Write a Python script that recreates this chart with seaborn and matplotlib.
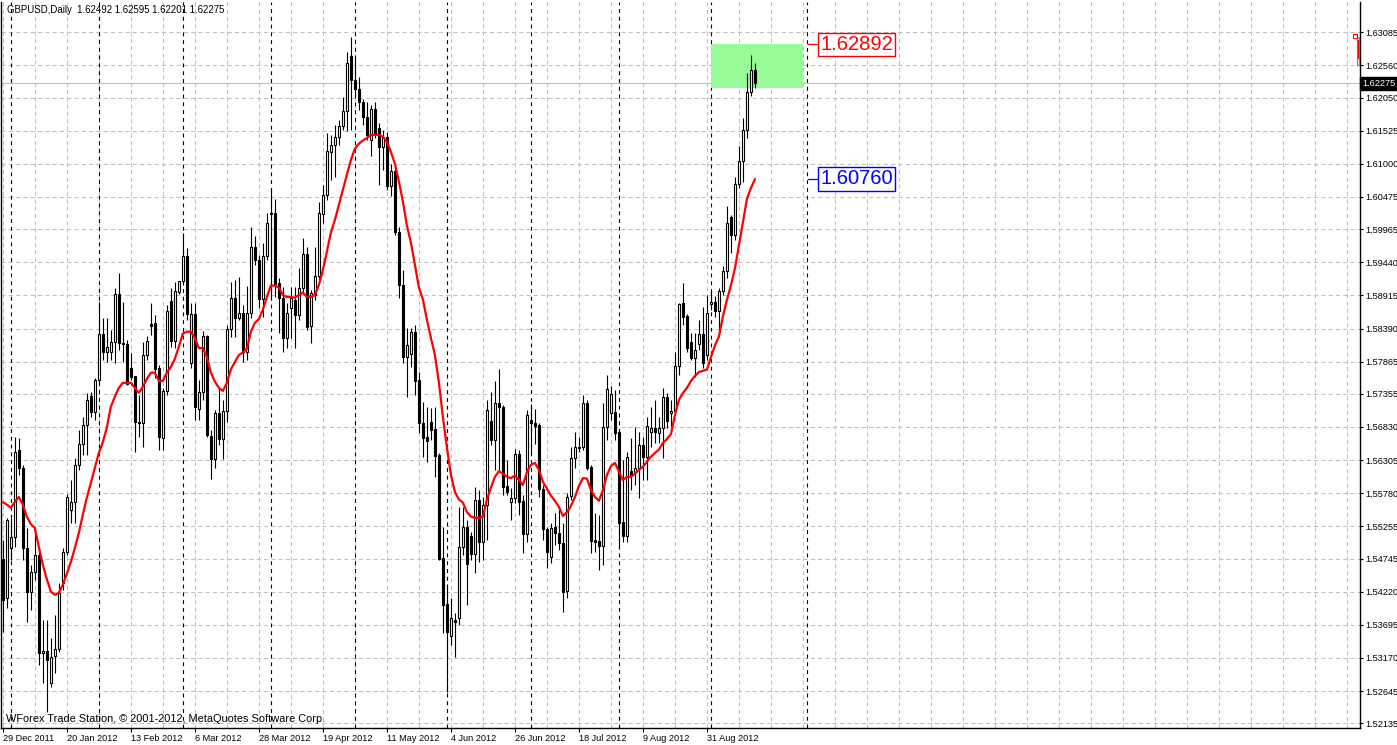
import numpy as np
import matplotlib
matplotlib.use("Agg")
import matplotlib.pyplot as plt
import matplotlib.transforms as mtransforms
from matplotlib.patches import Rectangle
import seaborn as sns

# ---------------- data ----------------
opens = [
1.5474,1.5412,1.5491,1.5509,1.5647,1.5618,1.5491,1.5422,1.5453,1.5480,
1.5325,1.5328,1.5277,1.5320,1.5331,1.5436,1.5485,1.5552,1.5564,1.5623,
1.5656,1.5686,1.5732,1.5707,1.5758,1.5831,1.5802,1.5802,1.5818,1.5894,
1.5816,1.5815,1.5777,1.5764,1.5691,1.5690,1.5797,1.5846,1.5848,1.5777,
1.5666,1.5740,1.5883,1.5820,1.5897,1.5915,1.5954,1.5785,1.5862,1.5712,
1.5739,1.5827,1.5669,1.5633,1.5705,1.5664,1.5709,1.5839,1.5888,1.5856,
1.5864,1.5802,1.5864,1.5969,1.5948,1.5886,1.5954,1.6021,1.6022,1.5911,
1.5888,1.5824,1.5872,1.5885,1.5861,1.5904,1.5957,1.5843,1.5892,1.5923,
1.6021,1.6051,1.6119,1.6130,1.6143,1.6160,1.6184,1.6271,1.6233,1.6219,
1.6198,1.6175,1.6138,1.6187,1.6157,1.6127,1.6143,1.6065,1.6089,1.5992,
1.5908,1.5794,1.5799,1.5834,1.5758,1.5690,1.5667,1.5691,1.5680,1.5639,
1.5476,1.5403,1.5352,1.5377,1.5380,1.5493,1.5525,1.5510,1.5482,1.5568,
1.5501,1.5560,1.5693,1.5663,1.5721,1.5715,1.5590,1.5564,1.5571,1.5640,
1.5566,1.5514,1.5694,1.5690,1.5686,1.5585,1.5522,1.5477,1.5525,1.5515,
1.5499,1.5423,1.5574,1.5634,1.5650,1.5652,1.5721,1.5620,1.5504,1.5503,
1.5495,1.5683,1.5705,1.5707,1.5675,1.5533,1.5510,1.5613,1.5612,1.5618,
1.5655,1.5636,1.5675,1.5682,1.5674,1.5682,1.5731,1.5705,1.5709,1.5780,
1.5880,1.5859,1.5818,1.5793,1.5815,1.5831,1.5797,1.5878,1.5881,1.5867,
1.5899,1.5930,1.6016,1.5988,1.6068,1.6105,1.6154,1.6214,1.62492]

highs = [
1.5504,1.5539,1.5539,1.5667,1.5666,1.5623,1.5523,1.5465,1.5523,1.5488,
1.5377,1.5377,1.5349,1.5385,1.5436,1.5491,1.5577,1.5599,1.5634,1.5678,
1.5699,1.5737,1.5739,1.5761,1.5881,1.5856,1.5856,1.5837,1.5904,1.5927,
1.5881,1.5821,1.5801,1.5764,1.5734,1.5818,1.5827,1.5880,1.5861,1.5781,
1.5745,1.5877,1.5904,1.5913,1.5915,1.5991,1.5967,1.5880,1.5880,1.5758,
1.5835,1.5829,1.5678,1.5710,1.5745,1.5726,1.5845,1.5913,1.5916,1.5921,
1.5877,1.5907,1.6000,1.5986,1.5956,1.5975,1.6022,1.6062,1.6045,1.5919,
1.5905,1.5880,1.5905,1.5905,1.5935,1.5983,1.5969,1.5900,1.5969,1.6040,
1.6067,1.6149,1.6146,1.6162,1.6170,1.6206,1.6278,1.6301,1.6268,1.6238,
1.6202,1.6198,1.6194,1.6198,1.6165,1.6154,1.6151,1.6099,1.6094,1.6000,
1.5932,1.5840,1.5840,1.5845,1.5770,1.5723,1.5715,1.5713,1.5715,1.5642,
1.5525,1.5433,1.5412,1.5388,1.5556,1.5556,1.5536,1.5517,1.5588,1.5583,
1.5572,1.5726,1.5739,1.5756,1.5775,1.5718,1.5631,1.5587,1.5648,1.5647,
1.5575,1.5710,1.5720,1.5712,1.5690,1.5591,1.5525,1.5531,1.5547,1.5555,
1.5531,1.5579,1.5652,1.5675,1.5667,1.5734,1.5726,1.5623,1.5547,1.5544,
1.5721,1.5766,1.5748,1.5742,1.5678,1.5631,1.5644,1.5666,1.5683,1.5675,
1.5667,1.5698,1.5715,1.5726,1.5698,1.5745,1.5737,1.5726,1.5802,1.5880,
1.5911,1.5862,1.5832,1.5832,1.5853,1.5873,1.5892,1.5900,1.5891,1.5904,
1.5938,1.6033,1.6019,1.6079,1.6129,1.6173,1.6244,1.6273,1.62595]

lows = [
1.5358,1.5396,1.5472,1.5493,1.5607,1.5472,1.5374,1.5393,1.5441,1.5306,
1.5277,1.5232,1.5271,1.5293,1.5327,1.5425,1.5480,1.5531,1.5531,1.5615,
1.5639,1.5639,1.5698,1.5694,1.5750,1.5789,1.5786,1.5789,1.5785,1.5805,
1.5786,1.5750,1.5758,1.5644,1.5667,1.5652,1.5789,1.5829,1.5761,1.5647,
1.5647,1.5734,1.5810,1.5808,1.5894,1.5908,1.5853,1.5777,1.5694,1.5694,
1.5726,1.5667,1.5601,1.5618,1.5655,1.5633,1.5691,1.5826,1.5826,1.5853,
1.5786,1.5789,1.5856,1.5940,1.5872,1.5858,1.5948,1.5889,1.5889,1.5832,
1.5802,1.5808,1.5824,1.5808,1.5853,1.5897,1.5837,1.5816,1.5885,1.5916,
1.6007,1.6043,1.6075,1.6079,1.6130,1.6154,1.6152,1.6154,1.6209,1.6186,
1.6162,1.6138,1.6113,1.6141,1.6067,1.6091,1.6059,1.6049,1.5988,1.5888,
1.5785,1.5731,1.5778,1.5734,1.5674,1.5636,1.5628,1.5663,1.5604,1.5472,
1.5357,1.5263,1.5338,1.5319,1.5369,1.5480,1.5401,1.5472,1.5452,1.5469,
1.5472,1.5504,1.5655,1.5615,1.5615,1.5575,1.5575,1.5536,1.5563,1.5544,
1.5484,1.5501,1.5639,1.5656,1.5572,1.5504,1.5460,1.5468,1.5496,1.5488,
1.5390,1.5412,1.5568,1.5618,1.5644,1.5647,1.5615,1.5484,1.5485,1.5457,
1.5465,1.5663,1.5694,1.5663,1.5491,1.5501,1.5501,1.5583,1.5591,1.5571,
1.5599,1.5599,1.5652,1.5658,1.5658,1.5634,1.5682,1.5683,1.5705,1.5766,
1.5845,1.5802,1.5789,1.5762,1.5805,1.5777,1.5789,1.5869,1.5858,1.5826,
1.5892,1.5919,1.5959,1.5980,1.6062,1.6072,1.6141,1.6208,1.62201]

closes = [
1.5409,1.5536,1.5509,1.5644,1.5618,1.5491,1.5422,1.5453,1.5480,1.5325,
1.5328,1.5314,1.5319,1.5331,1.5420,1.5485,1.5572,1.5564,1.5623,1.5656,
1.5686,1.5726,1.5707,1.5758,1.5831,1.5802,1.5810,1.5818,1.5894,1.5816,
1.5815,1.5751,1.5762,1.5691,1.5690,1.5797,1.5820,1.5843,1.5775,1.5667,
1.5740,1.5867,1.5820,1.5899,1.5915,1.5954,1.5862,1.5862,1.5715,1.5739,
1.5827,1.5671,1.5633,1.5705,1.5664,1.5709,1.5839,1.5888,1.5856,1.5864,
1.5802,1.5864,1.5969,1.5948,1.5886,1.5954,1.6007,1.6022,1.5910,1.5888,
1.5824,1.5864,1.5888,1.5861,1.5904,1.5957,1.5842,1.5896,1.5923,1.6022,
1.6051,1.6121,1.6130,1.6143,1.6160,1.6184,1.6260,1.6233,1.6219,1.6198,
1.6175,1.6146,1.6187,1.6146,1.6127,1.6143,1.6065,1.6089,1.5992,1.5908,
1.5794,1.5813,1.5834,1.5756,1.5690,1.5666,1.5661,1.5678,1.5637,1.5474,
1.5401,1.5358,1.5380,1.5374,1.5493,1.5525,1.5466,1.5482,1.5568,1.5501,
1.5560,1.5710,1.5663,1.5721,1.5715,1.5588,1.5580,1.5571,1.5640,1.5564,
1.5514,1.5702,1.5690,1.5685,1.5585,1.5522,1.5485,1.5523,1.5515,1.5499,
1.5422,1.5572,1.5634,1.5652,1.5652,1.5721,1.5618,1.5503,1.5501,1.5495,
1.5683,1.5743,1.5736,1.5674,1.5531,1.5510,1.5636,1.5606,1.5618,1.5655,
1.5636,1.5685,1.5682,1.5675,1.5682,1.5731,1.5693,1.5709,1.5780,1.5878,
1.5858,1.5808,1.5793,1.5805,1.5831,1.5785,1.5864,1.5881,1.5867,1.5899,
1.5930,1.6007,1.5988,1.6068,1.6105,1.6154,1.6214,1.6249,1.62275]

ma_values = [
1.5564,1.5560,1.5555,1.5564,1.5572,1.5560,1.5541,1.5529,1.5523,1.5493,
1.5465,1.5442,1.5422,1.5417,1.5420,1.5433,1.5450,1.5469,1.5491,1.5515,
1.5544,1.5571,1.5594,1.5618,1.5642,1.5659,1.5682,1.5715,1.5731,1.5745,
1.5753,1.5753,1.5753,1.5745,1.5737,1.5747,1.5759,1.5769,1.5769,1.5756,
1.5756,1.5769,1.5778,1.5791,1.5810,1.5831,1.5834,1.5834,1.5824,1.5808,
1.5808,1.5794,1.5769,1.5755,1.5745,1.5740,1.5753,1.5774,1.5786,1.5797,
1.5801,1.5807,1.5834,1.5848,1.5854,1.5869,1.5889,1.5907,1.5907,1.5904,
1.5892,1.5889,1.5889,1.5888,1.5892,1.5896,1.5889,1.5889,1.5892,1.5908,
1.5932,1.5961,1.5991,1.6011,1.6035,1.6059,1.6083,1.6106,1.6124,1.6132,
1.6137,1.6141,1.6146,1.6146,1.6146,1.6143,1.6135,1.6119,1.6100,1.6072,
1.6040,1.6002,1.5975,1.5940,1.5904,1.5885,1.5853,1.5824,1.5797,1.5753,
1.5699,1.5650,1.5607,1.5580,1.5568,1.5563,1.5548,1.5541,1.5539,1.5539,
1.5541,1.5568,1.5587,1.5604,1.5613,1.5609,1.5604,1.5602,1.5606,1.5599,
1.5591,1.5612,1.5623,1.5626,1.5615,1.5596,1.5585,1.5574,1.5566,1.5556,
1.5542,1.5548,1.5558,1.5572,1.5590,1.5602,1.5601,1.5583,1.5572,1.5566,
1.5583,1.5607,1.5621,1.5626,1.5612,1.5599,1.5604,1.5604,1.5609,1.5615,
1.5620,1.5628,1.5636,1.5642,1.5647,1.5658,1.5664,1.5672,1.5702,1.5726,
1.5737,1.5745,1.5756,1.5764,1.5770,1.5772,1.5774,1.5794,1.5812,1.5827,
1.5859,1.5885,1.5908,1.5935,1.5972,1.6008,1.6045,1.6062,1.6076]

date_labels = ["29 Dec 2011", "20 Jan 2012", "13 Feb 2012", "6 Mar 2012",
               "28 Mar 2012", "19 Apr 2012", "11 May 2012", "4 Jun 2012",
               "26 Jun 2012", "18 Jul 2012", "9 Aug 2012", "31 Aug 2012"]
date_bars = [0, 16, 32, 48, 64, 80, 96, 112, 128, 144, 160, 176]
month_start_bars = [2, 24, 45, 67, 88, 111, 132, 154, 177, 201]

price_tick_labels = ["1.63085", "1.62560", "1.62050", "1.61525", "1.61000", "1.60475",
                     "1.59965", "1.59440", "1.58915", "1.58390", "1.57865", "1.57355",
                     "1.56830", "1.56305", "1.55780", "1.55255", "1.54745", "1.54220",
                     "1.53695", "1.53170", "1.52645", "1.52135"]

title_text = "GBPUSD,Daily  1.62492 1.62595 1.62201 1.62275"
footer_text = "WForex Trade Station, \u00a9 2001-2012, MetaQuotes Software Corp."
bid_price = 1.62275
zone_top = 1.62892
zone_bottom = 1.62201
zone_bars = (177, 200)
level_red = 1.62892
level_blue = 1.60760

# ---------------- styling ----------------
sns.set_style("white")
plt.rcParams['font.family'] = ['Liberation Sans', 'DejaVu Sans']

W, H = 1397, 745
fig = plt.figure(figsize=(W / 100, H / 100), dpi=100)
ax_l, ax_r, ax_t, ax_b = 1.0, 1360.0, 2.0, 728.0
ax = fig.add_axes([ax_l / W, 1 - ax_b / H, (ax_r - ax_l) / W, (ax_b - ax_t) / H])
ax.set_facecolor("white")

o = np.array(opens); h = np.array(highs); l = np.array(lows); c = np.array(closes)
n = len(o)
x = np.arange(n)

ax.set_xlim(-0.45, 339.2)
ax.set_ylim(1.52059, 1.63565)

grid_col = "#c0c0c0"
dash = (0, (4, 3))
tick_vals = [float(s) for s in price_tick_labels]
for v in tick_vals:
    ax.axhline(v, color=grid_col, lw=0.75, ls=dash, zorder=0.5)
for b in range(0, 340, 8):
    ax.axvline(b, color=grid_col, lw=0.75, ls=dash, zorder=0.5)
ax.axhline(bid_price, color=grid_col, lw=0.75, zorder=0.8)
for b in month_start_bars:
    ax.axvline(b, color="black", lw=0.8, ls=(0, (3.5, 3.5)), zorder=0.9)

# target zone
ax.add_patch(Rectangle((zone_bars[0], zone_bottom), zone_bars[1] - zone_bars[0],
                       zone_top - zone_bottom, facecolor="#98fb98", edgecolor="none", zorder=1))

# candles
bull = c >= o
ax.vlines(x, l, h, color="black", lw=0.8, zorder=4)
ax.bar(x[bull], (c - o)[bull], bottom=o[bull], width=0.55, facecolor="white",
       edgecolor="black", linewidth=0.8, zorder=5)
ax.bar(x[~bull], (o - c)[~bull], bottom=c[~bull], width=0.55, facecolor="black",
       edgecolor="black", linewidth=0.8, zorder=5)

# moving average
sns.lineplot(x=x, y=np.array(ma_values), color="#ff0000", linewidth=1.6, ax=ax,
             zorder=6, legend=False)

# price labels
for lev, col in [(level_red, "#ff0000"), (level_blue, "#0000ff")]:
    ax.plot([201.2, 203.7], [lev, lev], color=col, lw=0.9, zorder=6)
    ax.text(204.3, lev, f"{lev:.5f}", color=col, fontsize=14.5, ha="left", va="center",
            zorder=7, bbox=dict(boxstyle="square,pad=0.12", facecolor="white",
                                edgecolor=col, linewidth=1.0))

# small object at top right
ax.add_patch(Rectangle((338.35, 1.6257), 0.6, 0.0044, facecolor="none",
                       edgecolor="#808080", lw=0.8, zorder=6, clip_on=False))
ax.plot([338.75, 338.75], [1.6268, 1.6297], color="#ff0000", lw=1.0, zorder=7, clip_on=False)
ax.plot([337.9], [1.6303], marker="s", ms=2.5, mfc="white", mec="#ff0000", mew=0.8,
        zorder=7, clip_on=False)

# axes / ticks
for s in ["left", "right", "bottom"]:
    ax.spines[s].set_visible(True)
    ax.spines[s].set_color("black")
    ax.spines[s].set_linewidth(1.0)
ax.spines["top"].set_visible(False)

ax.yaxis.tick_right()
ax.set_yticks(tick_vals)
ax.set_yticklabels(price_tick_labels)
ax.tick_params(axis="y", direction="out", length=2.5, width=0.8, pad=1.5,
               labelsize=6.6, colors="black", right=True, left=False)
ax.set_xticks(date_bars)
ax.set_xticklabels(date_labels, ha="left")
ax.tick_params(axis="x", direction="out", length=3, width=0.8, pad=1.0,
               labelsize=6.6, colors="black", bottom=True)
ax.set_xlabel(""); ax.set_ylabel("")

# current price tag on axis
trans = mtransforms.blended_transform_factory(ax.transAxes, ax.transData)
ax.text(1.0015, bid_price, "1.62275", transform=trans, ha="left", va="center",
        fontsize=6.6, color="white", zorder=10, clip_on=False,
        bbox=dict(boxstyle="square,pad=0.18", facecolor="black", edgecolor="black"))

fig.text(7 / W, 1 - 10 / H, title_text, fontsize=6.9, color="black", ha="left", va="center")
fig.text(6 / W, 1 - 719 / H, footer_text, fontsize=7.9, color="black", ha="left", va="center")

fig.savefig("out.png", dpi=100, facecolor="white")
